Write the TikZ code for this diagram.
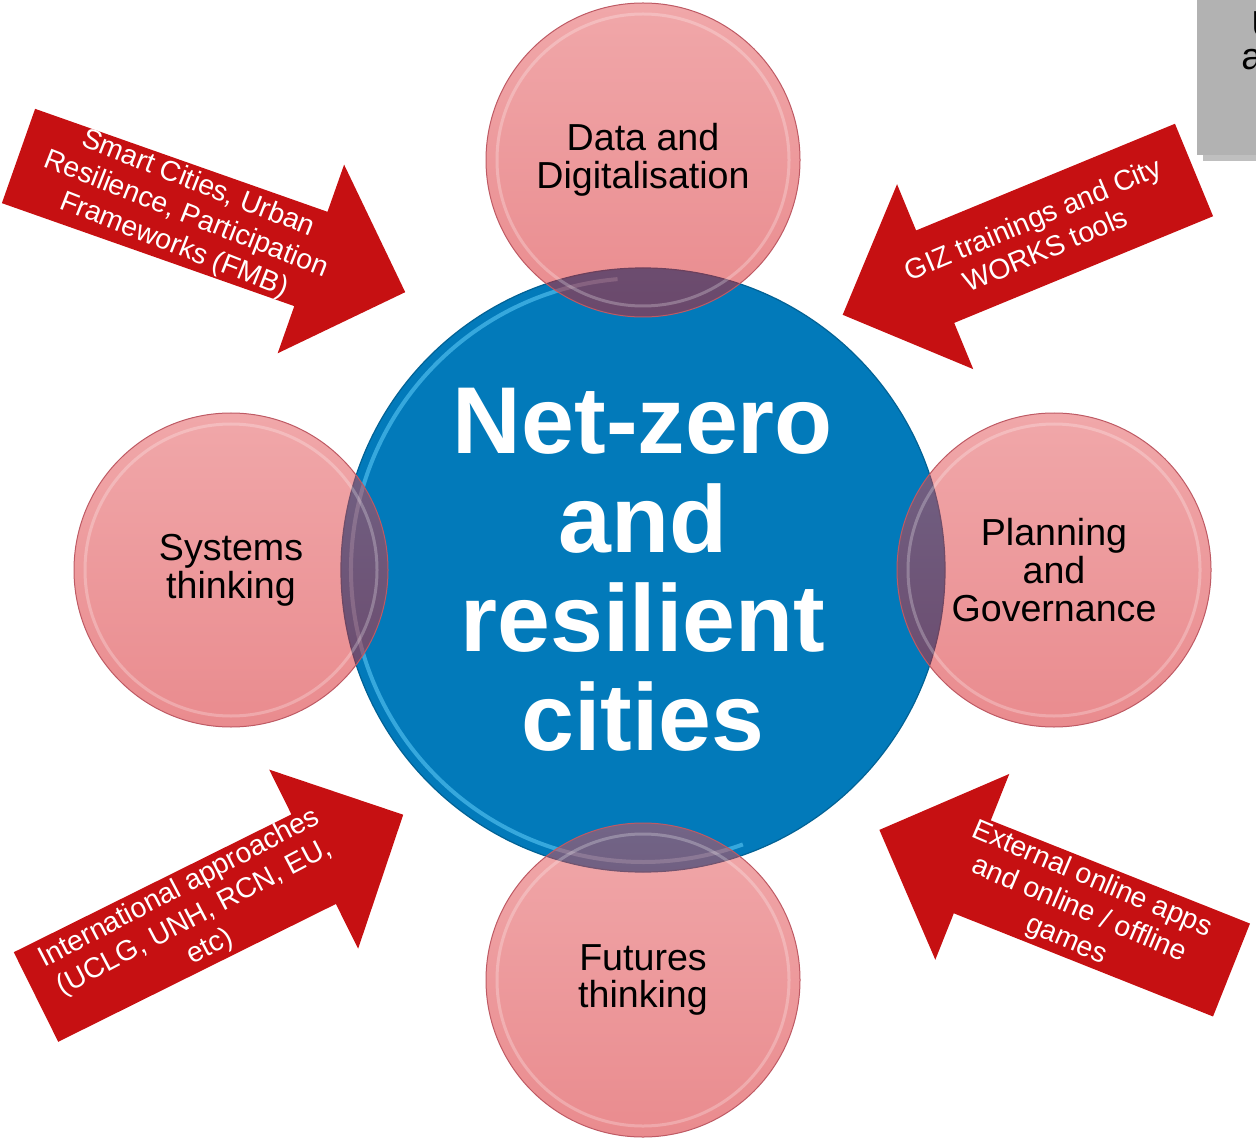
\documentclass[tikz,border=0pt]{standalone}
\usepackage{fontspec}
\setmainfont{Liberation Sans}
\usetikzlibrary{shadows}
\definecolor{arrowred}{RGB}{198,16,18}
\definecolor{ballblue}{RGB}{2,122,186}
\definecolor{rimblue}{RGB}{90,200,245}
\definecolor{balltop}{RGB}{226,80,84}
\definecolor{ballbottom}{RGB}{212,24,30}
\definecolor{ballline}{RGB}{190,90,100}
\definecolor{boxgray}{RGB}{178,178,178}
\tikzstyle{hub} = [circle, fill=ballblue, draw=ballblue!80!black, line width=0.6pt, minimum size=302pt, inner sep=0pt, text=white, align=center, font=\fontsize{47.5}{49.5}\selectfont\bfseries]
\tikzstyle{bubble} = [circle, draw=ballline, line width=0.5pt, top color=balltop, bottom color=ballbottom, fill opacity=0.5, text opacity=1, minimum size=157pt, inner sep=0pt, align=center, font=\fontsize{18.8}{18.8}\selectfont]
\tikzstyle{shine} = [white, line width=1.5pt, opacity=0.25]
\tikzstyle{rim} = [rimblue, line width=2pt, opacity=0.6]
\tikzstyle{arrowtext} = [text=white, align=center, inner sep=0pt, font=\fontsize{14.2}{16.5}\selectfont]
\tikzstyle{redarrow} = [fill=arrowred]
\tikzstyle{graybox} = [fill=boxgray, drop shadow, minimum width=40pt, minimum height=82.5pt, anchor=north west, inner sep=0pt]
\newcommand{\redarrow}[3]{%
	\fill[redarrow, shift={#1}, rotate=#2] (0,-50) -- (#3-100,-50) -- (#3-100,-100) -- (#3,0) -- (#3-100,100) -- (#3-100,50) -- (0,50) -- cycle;}

\begin{document}
\begin{tikzpicture}[x=0.5pt, y=-0.5pt]
	\useasboundingbox (0,0) rectangle (1256,1138);
	\node[graybox] (gbox) at (1197,-10) {};
	\node[anchor=west, inner sep=0pt, font=\fontsize{18.8}{18.8}\selectfont] (gtxta) at (1251,25) {U};
	\node[anchor=west, inner sep=0pt, font=\fontsize{18.8}{18.8}\selectfont] (gtxtb) at (1241,60) {a};

	\redarrow{(18.5,156)}{-19.4}{410}
	\redarrow{(1194,170)}{202.4}{380}
	\redarrow{(36,997)}{26.4}{410}
	\redarrow{(1231.5,970)}{158.3}{379}
	\node[arrowtext, rotate=-21.5] (smart) at (186,215) {Smart Cities, Urban\\Resilience, Participation\\Frameworks (FMB)};
	\node[arrowtext, rotate=22.8] (giz) at (1039,234) {GIZ trainings and City\\WORKS tools};
	\node[arrowtext, rotate=27.7] (intl) at (195,918) {International approaches\\(UCLG, UNH, RCN, EU,\\etc)};
	\node[arrowtext, rotate=-23] (ext) at (1079,910) {External online apps\\and online / offline\\games};

	\node[hub] (netzero) at (643,570) {Net-zero\\and\\resilient\\cities};
	\draw[rim] (netzero.center) ++(95:146pt) arc[start angle=95, end angle=290, radius=146pt];

	\node[bubble] (data) at (643,160) {Data and\\Digitalisation};
	\node[bubble] (systems) at (231,570) {Systems\\thinking};
	\node[bubble] (planning) at (1054,570) {Planning\\and\\Governance};
	\node[bubble] (futures) at (643,980) {Futures\\thinking};
	\foreach \b in {data, systems, planning, futures}
		\draw[shine] (\b.center) circle (73pt);
\end{tikzpicture}
\end{document}
